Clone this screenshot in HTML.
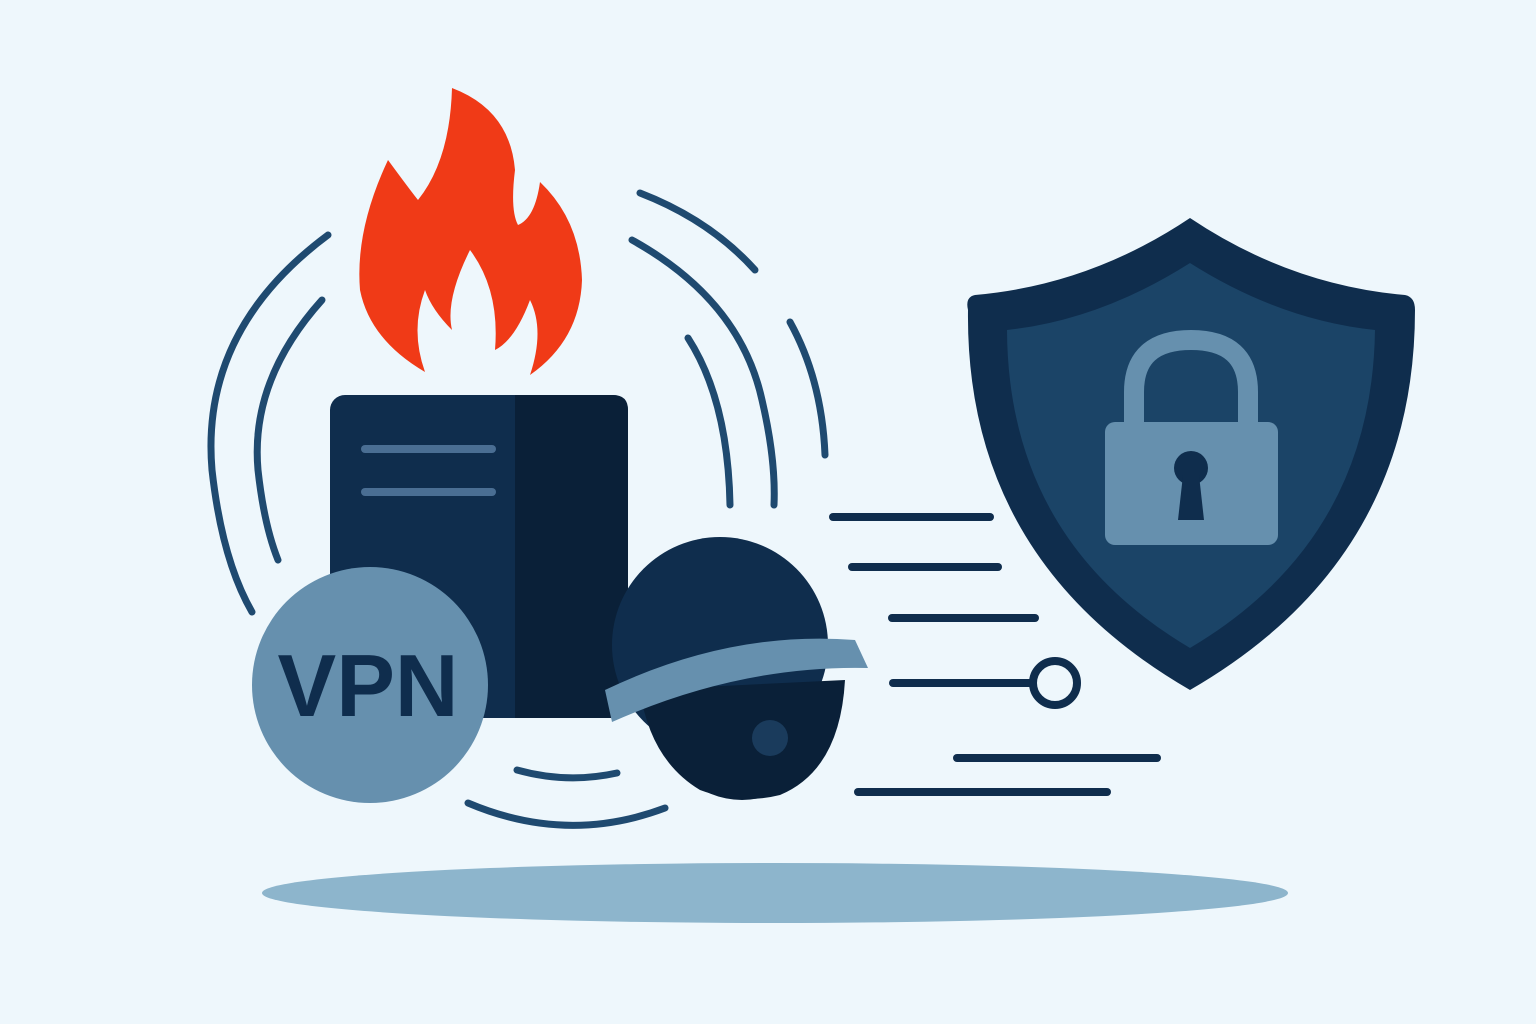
<!DOCTYPE html>
<html><head><meta charset="utf-8"><style>html,body{margin:0;padding:0;background:#eef7fc}svg{display:block}</style></head><body>
<svg width="1536" height="1024" viewBox="0 0 1536 1024" xmlns="http://www.w3.org/2000/svg">
<rect width="1536" height="1024" fill="#eef7fc"/>
<ellipse cx="775" cy="893" rx="513" ry="30" fill="#8db5cc"/>
<g fill="none" stroke="#1f4a70" stroke-width="7" stroke-linecap="round">
<path d="M328 235 Q200 330 212 470 Q222 560 252 612"/>
<path d="M322 300 Q250 380 258 470 Q264 525 278 560"/>
<path d="M640 193 Q710 220 755 270"/>
<path d="M632 240 Q740 300 762 400 Q776 460 774 505"/>
<path d="M790 322 Q822 380 825 455"/>
<path d="M688 338 Q728 400 730 505"/>
<path d="M517 770 Q567 784 617 773"/>
<path d="M468 803 Q567 845 665 808"/>
</g>
<g stroke="#0f2d4d" stroke-width="8" stroke-linecap="round" fill="none">
<line x1="833" y1="517" x2="990" y2="517"/>
<line x1="852" y1="567" x2="998" y2="567"/>
<line x1="892" y1="618" x2="1035" y2="618"/>
<line x1="893" y1="683" x2="1033" y2="683"/>
<circle cx="1055" cy="683" r="22"/>
<line x1="957" y1="758" x2="1157" y2="758"/>
<line x1="858" y1="792" x2="1107" y2="792"/>
</g>
<path d="M425 372 Q370 340 360 290 Q355 230 388 160 Q410 190 418 200 Q450 160 452 88 Q510 110 515 170 Q510 210 518 225 Q535 218 540 182 Q580 220 582 280 Q580 340 530 375 Q545 330 530 300 Q515 340 495 350 Q500 290 470 250 Q445 300 452 330 Q432 310 425 290 Q410 330 425 372 Z" fill="#f03a17"/>
<rect x="330" y="395" width="298" height="323" rx="15" fill="#0f2d4d"/>
<path d="M515 395 H613 Q628 395 628 410 V703 Q628 718 613 718 H515 Z" fill="#0a2038"/>
<g stroke="#4a6e93" stroke-width="8" stroke-linecap="round"><line x1="365" y1="449" x2="492" y2="449"/><line x1="365" y1="492" x2="492" y2="492"/></g>
<circle cx="370" cy="685" r="118" fill="#6690ae"/>
<text x="368" y="716" text-anchor="middle" font-family="Liberation Sans, sans-serif" font-weight="bold" font-size="88" fill="#0f2d4d">VPN</text>
<circle cx="742" cy="718" r="82" fill="#0a2038"/>
<circle cx="720" cy="645" r="108" fill="#0f2d4d"/>
<path d="M640 690 Q650 760 700 790 Q740 805 780 795 Q840 770 845 680 Z" fill="#0a2038"/>
<path d="M605 690 Q730 630 855 640 L868 668 Q740 665 612 722 Z" fill="#6690ae"/>
<circle cx="770" cy="738" r="18" fill="#1a3b5c"/>
<path d="M1190 218 Q1090 285 975 295 Q965 297 968 310 Q965 560 1190 690 Q1415 560 1415 310 Q1415 297 1405 295 Q1290 285 1190 218 Z" fill="#0f2d4d"/>
<path d="M1190 263 Q1100 320 1007 330 Q1008 540 1190 648 Q1372 540 1375 330 Q1280 320 1190 263 Z" fill="#1b4467"/>
<path d="M1134 425 V392 Q1134 340 1191 340 Q1248 340 1248 392 V425" fill="none" stroke="#6690ae" stroke-width="20"/>
<rect x="1105" y="422" width="173" height="123" rx="10" fill="#6690ae"/>
<circle cx="1191" cy="468" r="17" fill="#0f2d4d"/>
<path d="M1183 475 L1178 520 H1204 L1199 475 Z" fill="#0f2d4d"/>
</svg>
</body></html>
